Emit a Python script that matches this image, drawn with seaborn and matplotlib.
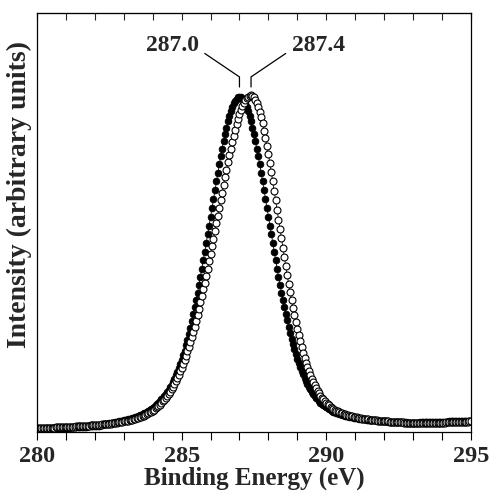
import numpy as np
import pandas as pd
import matplotlib
matplotlib.use('Agg')
import matplotlib.pyplot as plt
import seaborn as sns
from matplotlib.ticker import MultipleLocator

# binding energy grid of the scans, 0.05 eV step
energy = np.round(np.linspace(280.0, 295.0, 301), 2)

# C 1s spectrum, filled circles (peak at 287.0 eV)
filled = [
    1.0, 1.0, 1.0, 1.0, 1.0, 1.0, 1.1, 1.1, 1.1, 1.1,
    1.1, 1.1, 1.2, 1.2, 1.2, 1.2, 1.2, 1.2, 1.3, 1.3,
    1.3, 1.3, 1.3, 1.4, 1.4, 1.4, 1.4, 1.5, 1.5, 1.5,
    1.5, 1.6, 1.6, 1.6, 1.6, 1.7, 1.7, 1.7, 1.8, 1.8,
    1.8, 1.9, 1.9, 1.9, 2.1, 2.2, 2.3, 2.3, 2.4, 2.5,
    2.6, 2.6, 2.7, 2.8, 2.9, 2.9, 3.1, 3.2, 3.2, 3.3,
    3.5, 3.5, 3.7, 3.8, 3.9, 4.0, 4.1, 4.3, 4.4, 4.6,
    4.8, 5.0, 5.2, 5.4, 5.6, 5.8, 6.1, 6.4, 6.7, 7.0,
    7.3, 7.6, 8.0, 8.4, 8.8, 9.3, 9.8, 10.3, 10.8, 11.4,
    12.0, 12.7, 13.4, 14.2, 15.0, 15.9, 16.9, 18.0, 19.1, 20.3,
    21.6, 22.9, 24.3, 25.9, 27.6, 29.4, 31.2, 33.1, 35.2, 37.2,
    39.4, 41.6, 44.0, 46.3, 48.8, 51.3, 53.8, 56.4, 59.0, 61.6,
    64.3, 66.9, 69.6, 72.2, 74.8, 77.4, 79.9, 82.3, 84.6, 86.8,
    88.9, 90.9, 92.7, 94.3, 95.8, 97.0, 98.1, 98.9, 99.5, 99.9,
    100.0,
    99.9, 99.5, 98.9, 98.1, 97.0, 95.8, 94.3, 92.7, 90.9, 88.9,
    86.8, 84.6, 82.3, 79.9, 77.4, 74.8, 72.2, 69.6, 66.9, 64.3,
    61.6, 59.0, 56.4, 53.8, 51.3, 48.8, 46.3, 44.0, 41.6, 39.5,
    37.4, 35.3, 33.4, 31.5, 29.7, 27.9, 26.3, 24.8, 23.3, 21.9,
    20.6, 19.4, 18.2, 17.2, 16.2, 15.2, 14.3, 13.5, 12.8, 12.1,
    11.4, 10.8, 10.3, 9.8, 9.3, 8.8, 8.4, 8.1, 7.7, 7.4,
    7.1, 6.8, 6.6, 6.3, 6.1, 5.9, 5.8, 5.6, 5.4, 5.3,
    5.2, 5.0, 4.9, 4.8, 4.7, 4.6, 4.5, 4.4, 4.3, 4.3,
    4.2, 4.1, 4.0, 4.0, 3.9, 3.8, 3.8, 3.7, 3.7, 3.6,
    3.6, 3.5, 3.5, 3.5, 3.4, 3.4, 3.3, 3.3, 3.3, 3.2,
    3.2, 3.2, 3.1, 3.1, 3.1, 3.0, 3.0, 3.0, 3.0, 2.9,
    2.9, 2.9, 2.9, 2.9, 2.9, 2.8, 2.8, 2.8, 2.8, 2.8,
    2.8, 2.8, 2.8, 2.8, 2.9, 2.9, 2.9, 2.9, 2.9, 2.9,
    2.9, 2.9, 3.0, 3.0, 3.0, 3.0, 3.0, 3.0, 3.1, 3.1,
    3.1, 3.1, 3.1, 3.1, 3.2, 3.2, 3.2, 3.2, 3.2, 3.2,
    3.3, 3.3, 3.3, 3.3, 3.3, 3.4, 3.4, 3.4, 3.4, 3.4,
]

# open circles (peak at 287.4 eV)
open_ = [
    1.1, 1.2, 1.2, 1.2, 1.2, 1.2, 1.2, 1.3, 1.3, 1.3,
    1.3, 1.3, 1.3, 1.4, 1.4, 1.4, 1.4, 1.4, 1.5, 1.5,
    1.5, 1.5, 1.5, 1.6, 1.6, 1.6, 1.6, 1.7, 1.7, 1.7,
    1.7, 1.8, 1.8, 1.8, 1.9, 1.9, 1.9, 2.0, 2.0, 2.0,
    2.1, 2.1, 2.1, 2.2, 2.2, 2.3, 2.3, 2.3, 2.4, 2.4,
    2.5, 2.5, 2.6, 2.7, 2.7, 2.8, 2.9, 2.9, 3.0, 3.1,
    3.2, 3.2, 3.3, 3.4, 3.5, 3.6, 3.7, 3.8, 4.0, 4.1,
    4.3, 4.4, 4.6, 4.8, 4.9, 5.2, 5.4, 5.6, 5.9, 6.1,
    6.4, 6.7, 7.1, 7.4, 7.8, 8.2, 8.7, 9.2, 9.7, 10.2,
    10.8, 11.4, 12.1, 12.8, 13.6, 14.4, 15.2, 16.1, 17.1, 18.1,
    19.2, 20.3, 21.5, 22.7, 24.1, 25.4, 26.9, 28.4, 29.9, 31.5,
    33.2, 35.0, 36.8, 38.7, 40.6, 42.6, 44.6, 46.7, 48.8, 51.0,
    53.2, 55.4, 57.7, 60.0, 62.3, 64.6, 66.9, 69.2, 71.5, 73.8,
    76.1, 78.3, 80.5, 82.6, 84.6, 86.6, 88.5, 90.2, 91.9, 93.4,
    94.9, 96.1, 97.3, 98.2, 99.0, 99.6, 100.1, 100.4, 100.5,
    100.3, 99.9, 99.2, 98.3, 97.1, 95.6, 93.9, 92.1, 90.0, 87.8,
    85.4, 82.9, 80.3, 77.6, 74.8, 72.0, 69.2, 66.3, 63.4, 60.6,
    57.8, 55.0, 52.2, 49.5, 46.8, 44.3, 41.8, 39.4, 37.0, 34.9,
    32.8, 30.8, 28.9, 27.1, 25.3, 23.7, 22.2, 20.7, 19.4, 18.1,
    17.0, 15.9, 14.9, 14.0, 13.2, 12.4, 11.6, 10.9, 10.3, 9.8,
    9.2, 8.8, 8.3, 8.0, 7.6, 7.3, 7.0, 6.7, 6.4, 6.2,
    6.0, 5.8, 5.6, 5.4, 5.3, 5.1, 5.0, 4.9, 4.8, 4.7,
    4.6, 4.5, 4.4, 4.3, 4.2, 4.1, 4.0, 4.0, 3.9, 3.8,
    3.8, 3.7, 3.7, 3.6, 3.6, 3.5, 3.5, 3.4, 3.4, 3.4,
    3.3, 3.3, 3.2, 3.2, 3.2, 3.1, 3.1, 3.1, 3.0, 3.0,
    3.0, 2.9, 2.9, 2.9, 2.9, 2.8, 2.8, 2.8, 2.8, 2.7,
    2.7, 2.7, 2.7, 2.7, 2.7, 2.7, 2.7, 2.7, 2.6, 2.6,
    2.7, 2.7, 2.7, 2.7, 2.7, 2.7, 2.7, 2.7, 2.8, 2.8,
    2.8, 2.8, 2.8, 2.8, 2.9, 2.9, 2.9, 2.9, 2.9, 2.9,
    3.0, 3.0, 3.0, 3.0, 3.0, 3.1, 3.1, 3.1, 3.1, 3.1,
    3.2, 3.2,
]

peak_pos = [287.0, 287.4]
peak_labels = ['287.0', '287.4']

sns.set_style('ticks')
plt.rcParams['font.family'] = ['Liberation Serif', 'DejaVu Serif']
plt.rcParams['font.weight'] = 'bold'

df = pd.DataFrame({'energy': energy, 'filled': filled, 'open': open_})

fig = plt.figure(figsize=(4.94, 4.91), dpi=100)
ax = fig.add_axes([0.075, 0.12, 0.878, 0.853])

sns.lineplot(data=df, x='energy', y='filled', ax=ax, color='black', lw=0.6,
             marker='o', markersize=4.8, markerfacecolor='black',
             markeredgecolor='black', markeredgewidth=0.6, sort=False)
sns.lineplot(data=df, x='energy', y='open', ax=ax, color='black', lw=0.6,
             marker='o', markersize=5, markerfacecolor='white',
             markeredgecolor='black', markeredgewidth=0.8, sort=False)

# peak markers with leader lines
for p, lab, side in zip(peak_pos, peak_labels, [-1, 1]):
    ax.plot([p, p, p + side * 1.2], [103, 106, 113], color='black', lw=0.9)
    ax.text(p + side * 1.4, 115.5, lab, ha='right' if side < 0 else 'left',
            va='center', fontsize=17, fontweight='bold')

ax.set_xlim(280, 295)
ax.set_ylim(0, 125)
ax.set_yticks([])
ax.xaxis.set_major_locator(MultipleLocator(5))
ax.xaxis.set_minor_locator(MultipleLocator(1))
ax.tick_params(axis='x', which='both', direction='out', length=6, width=0.8,
               labelsize=17.5, pad=4, color='black')
for s in ax.spines.values():
    s.set_linewidth(0.9)
    s.set_color('black')

top = ax.secondary_xaxis('top')
top.xaxis.set_major_locator(MultipleLocator(5))
top.xaxis.set_minor_locator(MultipleLocator(1))
top.tick_params(which='both', direction='in', length=5, width=0.8, labeltop=False)

ax.set_xlabel('Binding Energy (eV)', fontsize=18, fontweight='bold', labelpad=0)
ax.set_ylabel('')
fig.text(0.040, 0.603, 'Intensity (arbitrary units)', rotation=90,
         ha='center', va='center', fontsize=20, fontweight='bold')

fig.savefig('out.png', dpi=100)
